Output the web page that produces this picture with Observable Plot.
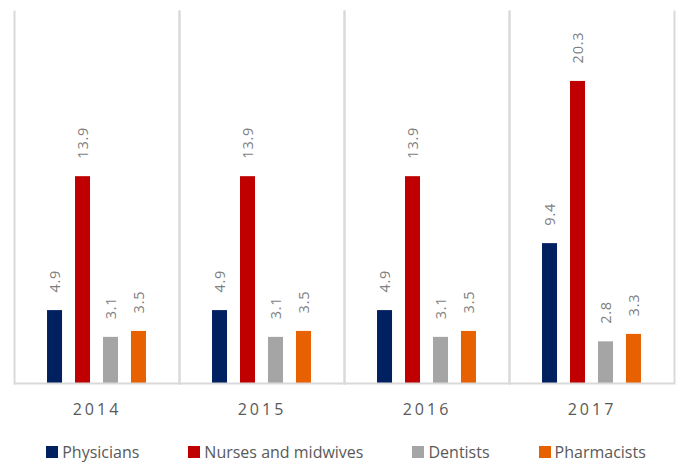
<!DOCTYPE html>
<html>
<head>
<meta charset="utf-8">
<script src="https://cdn.jsdelivr.net/npm/d3@7"></script>
<script src="https://cdn.jsdelivr.net/npm/@observablehq/plot@0.6"></script>
<style>
  html, body { margin: 0; padding: 0; background: #fff; }
  body { width: 686px; height: 465px; overflow: hidden; font-family: "Open Sans", sans-serif; }
  #chart svg [aria-label="fx-axis tick label"] text { letter-spacing: 3px; }
  #chart svg [aria-label="text"] text { letter-spacing: 0.8px; }
  .legend { display: flex; justify-content: center; gap: 49px; margin-top: 17px; margin-left: 6px;
            font-size: 16px; color: #595959; line-height: 20px; }
  .legend .item { display: flex; align-items: center; white-space: nowrap; }
  .legend .sw { width: 12px; height: 12px; margin-right: 4px; display: inline-block; }
</style>
</head>
<body>
<div id="chart"></div>
<script>
const years = ["2014", "2015", "2016", "2017"];
const series = ["Physicians", "Nurses and midwives", "Dentists", "Pharmacists"];
const physicians = [4.9, 4.9, 4.9, 9.4];
const nurses = [13.9, 13.9, 13.9, 20.3];
const dentists = [3.1, 3.1, 3.1, 2.8];
const pharmacists = [3.5, 3.5, 3.5, 3.3];
const colors = ["#002060", "#C00000", "#A5A5A5", "#E86100"];

const valuesBySeries = [physicians, nurses, dentists, pharmacists];
const data = [];
years.forEach((y, i) => {
  series.forEach((s, j) => data.push({year: y, series: s, value: valuesBySeries[j][i]}));
});

const plot = Plot.plot({
  width: 686,
  height: 425,
  marginLeft: 14,
  marginRight: 12,
  marginTop: 11,
  marginBottom: 42,
  style: {fontFamily: "Open Sans, sans-serif", background: "#fff"},
  fx: {domain: years, padding: 0, label: null, round: false},
  x: {domain: series, paddingInner: 0.464, paddingOuter: 1.18, round: false, axis: null},
  y: {domain: [0, 25], axis: null},
  color: {domain: series, range: colors},
  marks: [
    Plot.frame({anchor: "left", stroke: "#d9d9d9", strokeWidth: 2, strokeOpacity: 1}),
    Plot.frame({anchor: "right", stroke: "#d9d9d9", strokeWidth: 2, strokeOpacity: 1}),
    Plot.barY(data, {fx: "year", x: "series", y: "value", fill: "series"}),
    Plot.ruleY([0], {stroke: "#d9d9d9", strokeWidth: 2}),
    Plot.text(data, {fx: "year", x: "series", y: "value", text: d => d.value.toFixed(1),
      rotate: -90, textAnchor: "start", dy: -18, fill: "#7f7f7f", fontSize: 14.5}),
    Plot.axisFx({anchor: "bottom", tickSize: 0, tickPadding: 20, fontSize: 16, color: "#595959", label: null})
  ]
});
document.getElementById("chart").appendChild(plot);

const legend = document.createElement("div");
legend.className = "legend";
series.forEach((s, i) => {
  const item = document.createElement("div");
  item.className = "item";
  const sw = document.createElement("span");
  sw.className = "sw";
  sw.style.background = colors[i];
  item.appendChild(sw);
  item.appendChild(document.createTextNode(s));
  legend.appendChild(item);
});
document.getElementById("chart").appendChild(legend);
</script>
</body>
</html>
